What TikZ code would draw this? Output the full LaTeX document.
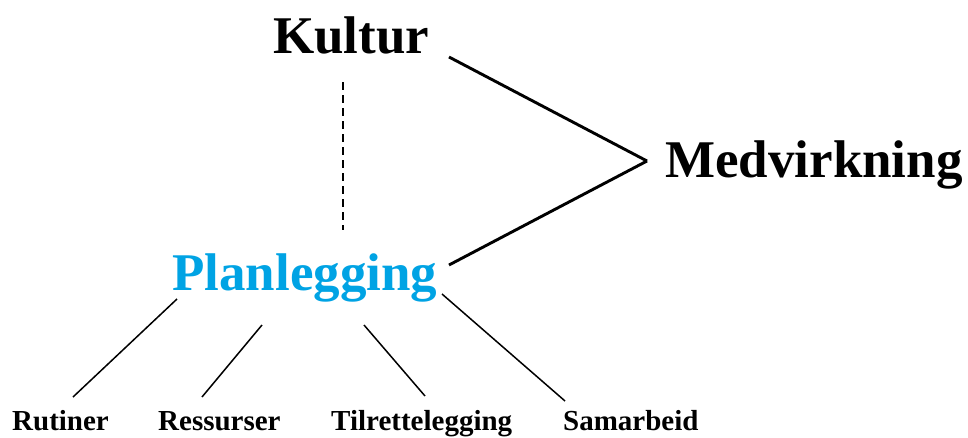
\documentclass[tikz,border=0pt]{standalone}
\usepackage{fontspec}
\setmainfont{Liberation Serif}
\definecolor{planblue}{RGB}{0,163,228}

\begin{document}
\begin{tikzpicture}[x=1pt, y=-1pt,
    big/.style={inner sep=0pt, anchor=base west, font=\fontsize{53}{60}\selectfont\bfseries},
    small/.style={inner sep=0pt, anchor=base west, font=\fontsize{29}{33}\selectfont\bfseries},
    link/.style={line width=2.9pt},
    thinlink/.style={line width=1.5pt},
    dashlink/.style={line width=2pt, dash pattern=on 8pt off 5pt}]

  \useasboundingbox (0,0) rectangle (968,437);

  % --- Main terms ---
  \node[big] (kultur) at (273,53) {Kultur};
  \node[big] (medv) at (665,177) {Medvirkning};
  \node[big, text=planblue] (plan) at (172,290) {Planlegging};

  % --- Sub terms ---
  \node[small] (rutiner) at (12,430) {Rutiner};
  \node[small] (ressurser) at (158,430) {Ressurser};
  \node[small] (tilrett) at (331,430) {Tilrettelegging};
  \node[small] (samarbeid) at (563,430) {Samarbeid};

  % --- Meeting point left of Medvirkning ---
  \coordinate (meet) at ([shift={(-18,-16)}]medv.base west);

  % --- Kultur - Planlegging (dashed) ---
  \draw[dashlink] ([shift={(70,29)}]kultur.base west) -- ([shift={(171,-60)}]plan.base west);

  % --- Both to Medvirkning ---
  \draw[link] ([shift={(176,4)}]kultur.base west) -- (meet);
  \draw[link] ([shift={(277,-25)}]plan.base west) -- (meet);

  % --- Planlegging to sub terms ---
  \draw[thinlink] ([shift={(5,9)}]plan.base west) -- ([shift={(61,-33)}]rutiner.base west);
  \draw[thinlink] ([shift={(90,35)}]plan.base west) -- ([shift={(44,-33)}]ressurser.base west);
  \draw[thinlink] ([shift={(192,35)}]plan.base west) -- ([shift={(94,-34)}]tilrett.base west);
  \draw[thinlink] ([shift={(270,4)}]plan.base west) -- ([shift={(2,-29)}]samarbeid.base west);

\end{tikzpicture}
\end{document}
